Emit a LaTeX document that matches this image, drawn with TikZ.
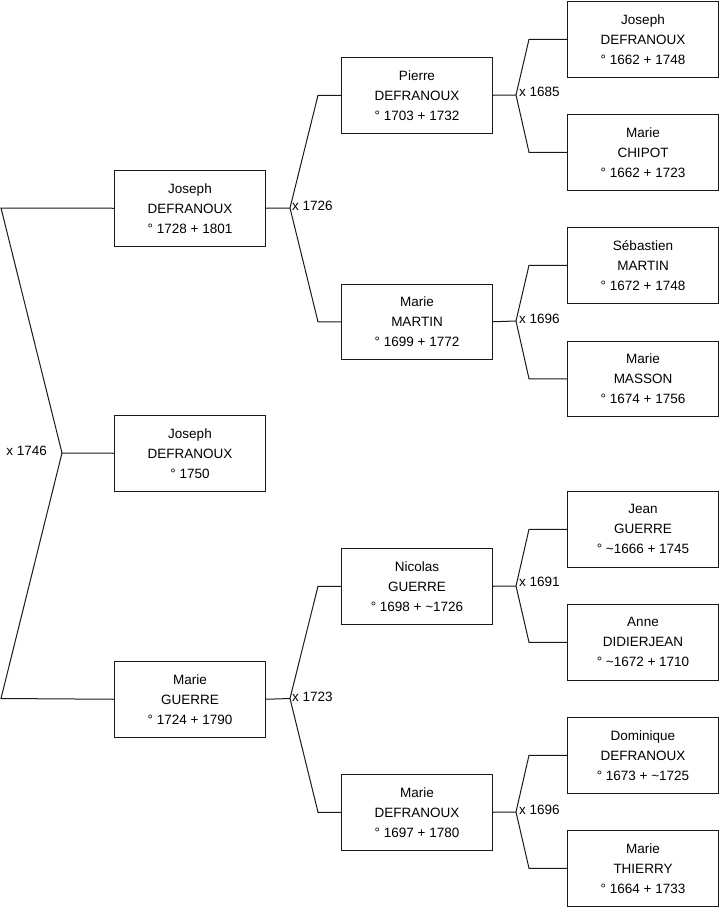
\documentclass[tikz,border=0pt]{standalone}
\usepackage{fontspec}
\setmainfont{Liberation Sans}
\begin{document}
\begin{tikzpicture}[x=1pt,y=-1pt,
  person/.style={draw=black!90,line width=1pt,minimum width=151pt,minimum height=75.5pt,
    inner sep=0pt,align=center,font=\fontsize{13.5}{20}\selectfont,anchor=north west},
  link/.style={draw=black!90,line width=1pt},
  mlabel/.style={inner sep=0pt,anchor=west,font=\fontsize{13.5}{16}\selectfont}]
\useasboundingbox (0,0) rectangle (719,908);
% level 3
\node[person] (a1) at (567,1) {Joseph\\DEFRANOUX\\° 1662 + 1748};
\node[person] (a2) at (567,114) {Marie\\CHIPOT\\° 1662 + 1723};
\node[person] (a3) at (567,227) {Sébastien\\MARTIN\\° 1672 + 1748};
\node[person] (a4) at (567,340.5) {Marie\\MASSON\\° 1674 + 1756};
\node[person] (a5) at (567,491) {Jean\\GUERRE\\° \textasciitilde 1666 + 1745};
\node[person] (a6) at (567,604) {Anne\\DIDIERJEAN\\° \textasciitilde 1672 + 1710};
\node[person] (a7) at (567,717) {Dominique\\DEFRANOUX\\° 1673 + \textasciitilde 1725};
\node[person] (a8) at (567,830) {Marie\\THIERRY\\° 1664 + 1733};
% level 2
\node[person] (b1) at (341,57) {Pierre\\DEFRANOUX\\° 1703 + 1732};
\node[person] (b2) at (341,283.5) {Marie\\MARTIN\\° 1699 + 1772};
\node[person] (b3) at (341,548) {Nicolas\\GUERRE\\° 1698 + \textasciitilde 1726};
\node[person] (b4) at (341,774) {Marie\\DEFRANOUX\\° 1697 + 1780};
% level 1
\node[person] (c1) at (114,170) {Joseph\\DEFRANOUX\\° 1728 + 1801};
\node[person] (c2) at (114,415) {Joseph\\DEFRANOUX\\° 1750};
\node[person] (c3) at (114,661) {Marie\\GUERRE\\° 1724 + 1790};
% junctions
\coordinate (r0) at (62,453);
\coordinate (rt) at (1,208);
\coordinate (rb) at (1,698.5);
\coordinate (m1) at (290,208);
\coordinate (m3) at (290,698.5);
\coordinate (n1) at (516,95);
\coordinate (n2) at (516,321);
\coordinate (n3) at (516,586);
\coordinate (n4) at (516,812);
% root
\draw[link] (c2.west) -- (r0) -- (rt) -- (c1.west);
\draw[link] (r0) -- (rb) -- (c3.west);
\node[mlabel,anchor=east] (l0) at (47,451) {x 1746};
% level 1 -> 2
\draw[link] (c1.east) -- (m1) -- ([xshift=-23pt]b1.west) -- (b1.west);
\draw[link] (m1) -- ([xshift=-23pt]b2.west) -- (b2.west);
\node[mlabel] (l1) at (292,206) {x 1726};
\draw[link] (c3.east) -- (m3) -- ([xshift=-23pt]b3.west) -- (b3.west);
\draw[link] (m3) -- ([xshift=-23pt]b4.west) -- (b4.west);
\node[mlabel] (l3) at (292,697) {x 1723};
% level 2 -> 3
\draw[link] (b1.east) -- (n1) -- ([xshift=-38pt]a1.west) -- (a1.west);
\draw[link] (n1) -- ([xshift=-38pt]a2.west) -- (a2.west);
\node[mlabel] (k1) at (519,92) {x 1685};
\draw[link] (b2.east) -- (n2) -- ([xshift=-38pt]a3.west) -- (a3.west);
\draw[link] (n2) -- ([xshift=-38pt]a4.west) -- (a4.west);
\node[mlabel] (k2) at (519,319) {x 1696};
\draw[link] (b3.east) -- (n3) -- ([xshift=-38pt]a5.west) -- (a5.west);
\draw[link] (n3) -- ([xshift=-38pt]a6.west) -- (a6.west);
\node[mlabel] (k3) at (519,582) {x 1691};
\draw[link] (b4.east) -- (n4) -- ([xshift=-38pt]a7.west) -- (a7.west);
\draw[link] (n4) -- ([xshift=-38pt]a8.west) -- (a8.west);
\node[mlabel] (k4) at (519,810) {x 1696};
\end{tikzpicture}
\end{document}
